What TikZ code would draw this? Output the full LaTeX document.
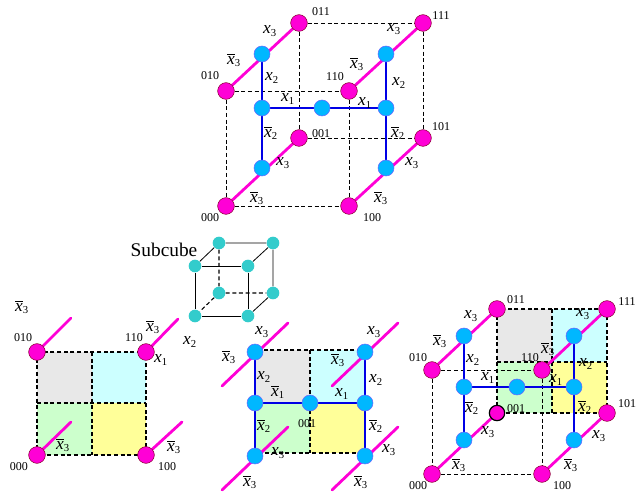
\documentclass[tikz,border=0pt]{standalone}
\usepackage{fontspec}
\setmainfont{Liberation Serif}
\usetikzlibrary{backgrounds}
\definecolor{railpink}{RGB}{255,0,214}
\definecolor{midcyan}{RGB}{0,183,255}
\definecolor{subteal}{RGB}{51,204,204}
\definecolor{tilegray}{RGB}{232,232,232}
\definecolor{tilecyan}{RGB}{204,255,255}
\definecolor{tilegreen}{RGB}{204,255,204}
\definecolor{tileyellow}{RGB}{255,255,153}
\newcommand{\xlit}[1]{$\mbox{\itshape x}_{\mbox{\fontsize{8}{8}\selectfont #1}}$}
\newcommand{\xbar}[1]{$\overline{\mbox{\itshape x}}_{\mbox{\fontsize{8}{8}\selectfont #1}}$}
\tikzset{
  corner/.style={circle,fill=railpink,draw=purple!70!black,line width=0.4pt,minimum size=12.5pt,inner sep=0pt},
  midpt/.style={circle,fill=midcyan,draw=blue!60,line width=0.4pt,minimum size=12pt,inner sep=0pt},
  subpt/.style={circle,fill=subteal,minimum size=9.5pt,inner sep=0pt},
  rail/.style={line width=2.1pt,color=railpink,line cap=round},
  axis/.style={line width=2.1pt,blue!90!black},
  hidden/.style={densely dashed,line width=0.6pt},
  tileline/.style={densely dashed,line width=1pt},
  code/.style={font=\fontsize{9}{9}\selectfont,inner sep=0pt},
  lit/.style={font=\fontsize{13}{13}\selectfont,inner sep=0pt}
}
\begin{document}
\begin{tikzpicture}[x=0.75pt,y=-0.75pt]
  \useasboundingbox (0,0) rectangle (640,495);

  % Main cube
  \foreach \t/\x/\y in {010/226/91,110/349/91,011/299/23,111/423/23,000/226/206,100/349/206,001/299/138,101/423/138}
    \node[corner] (a\t) at (\x,\y) {};
  \foreach \t/\x/\y in {tl/262/54,tr/386/54,cl/262/108,cc/322/108,cr/386/108,bl/262/168,br/386/168}
    \node[midpt] (a\t) at (\x,\y) {};
  \begin{scope}[on background layer]
    \draw[hidden] (a010) -- (a110) (a011) -- (a111) (a001) -- (a101) (a000) -- (a100);
    \draw[hidden] (a010) -- (a000) (a110) -- (a100) (a011) -- (a001) (a111) -- (a101);
    \draw[rail] (a010) -- (a011) (a110) -- (a111) (a000) -- (a001) (a100) -- (a101);
    \draw[axis] (atl) -- (abl) (atr) -- (abr) (acl) -- (acr);
  \end{scope}
  \foreach \t/\x/\y in {321/12/011,441/16/111,210/76/010,335/77/110,321/134/001,441/127/101,210/218/000,372/218/100}
    \node[code] at (\t,\x) {\y};
  \foreach \x/\y/\t in {270/31/3,394/29/3,272/78/2,399/83/2,288/99/1,365/103/1,283/163/3,412/163/3}
    \node[lit] at (\x,\y) {\xlit{\t}};
  \foreach \x/\y/\t in {234/60/3,357/64/3,271/133/2,398/133/2,257/198/3,381/198/3}
    \node[lit] at (\x,\y) {\xbar{\t}};

  % Subcube
  \node[font=\fontsize{14.5}{14.5}\selectfont,inner sep=0pt] (sublabel) at (164,250) {Subcube};
  \foreach \t/\x/\y in {fa/195/266,fb/248/266,fc/195/316,fd/248/316,ba/219/243,bb/273/243,bc/219/293,bd/273/293}
    \node[subpt] (s\t) at (\x,\y) {};
  \begin{scope}[on background layer]
    \draw[line width=0.6pt] (sfa) -- (sfb) -- (sfd) -- (sfc) -- (sfa);
    \draw[line width=0.6pt] (sba) -- (sbb) -- (sbd) (sfa) -- (sba) (sfb) -- (sbb) (sfd) -- (sbd);
    \draw[hidden,line width=0.8pt] (sba) -- (sbc) (sbc) -- (sbd) (sbc) -- (sfc);
  \end{scope}
  \node[lit] (subvar) at (190,342) {\xlit{2}};

  % Left square
  \foreach \t/\x/\y in {010/37/352,110/146/352,000/37/455,100/146/455}
    \node[corner] (l\t) at (\x,\y) {};
  \foreach \t/\x/\y in {a/71/318,b/178/319,c/71/422,d/182/422}
    \coordinate (lend\t) at (\x,\y);
  \begin{scope}[on background layer]
    \fill[tilegray] (37,352) rectangle (92,403);
    \fill[tilecyan] (92,352) rectangle (146,403);
    \fill[tilegreen] (37,403) rectangle (92,455);
    \fill[tileyellow] (92,403) rectangle (146,455);
    \draw[tileline] (37,352) rectangle (146,455) (92,352) -- (92,455) (37,403) -- (146,403);
    \draw[rail] (l010) -- (lenda) (l110) -- (lendb) (l000) -- (lendc) (l100) -- (lendd);
  \end{scope}
  \foreach \x/\y/\t in {23/338/010,134/338/110,19/467/000,167/467/100}
    \node[code] at (\x,\y) {\t};
  \foreach \x/\y in {22/307,153/327,63/445,174/447}
    \node[lit] at (\x,\y) {\xbar{3}};
  \node[lit] at (161,360) {\xlit{1}};

  % Middle square
  \foreach \t/\x/\y in {tl/255/352,tr/365/352,cl/255/403,cc/310/403,cr/365/403,bl/255/456,br/365/456}
    \node[midpt] (m\t) at (\x,\y) {};
  \foreach \t/\x/\y in {a/222/386,b/288/323,c/332/386,d/398/323,e/222/490,f/288,g/332/490}{}
  \foreach \t/\x/\y in {a/222/386,b/288/323,c/332/386,d/398/323,e/222/490,f/288/427,g/332/490,h/398/427}
    \coordinate (mend\t) at (\x,\y);
  \begin{scope}[on background layer]
    \fill[tilegray] (255,350) rectangle (310,403);
    \fill[tilecyan] (310,350) rectangle (365,403);
    \fill[tilegreen] (255,403) rectangle (310,453);
    \fill[tileyellow] (310,403) rectangle (365,453);
    \draw[tileline] (255,350) rectangle (365,453) (310,350) -- (310,453);
    \draw[rail] (menda) -- (mendb) (mendc) -- (mendd) (mende) -- (mendf) (mendg) -- (mendh);
    \draw[axis] (mtl) -- (mbl) (mtr) -- (mbr) (mcl) -- (mcr);
  \end{scope}
  \node[code] at (307,424) {001};
  \foreach \x/\y/\t in {262/332/3,374/332/3,264/377/2,376/380/2,342/394/1,278/453/3,389/450/3}
    \node[lit] at (\x,\y) {\xlit{\t}};
  \foreach \x/\y/\t in {229/357/3,338/360/3,278/392/1,264/426/2,376/426/2,250/482/3,361/482/3}
    \node[lit] at (\x,\y) {\xbar{\t}};

  % Right cube
  \foreach \t/\x/\y in {010/432/370,110/542/370,011/497/309,111/607/309,000/432/474,100/542/474,101/607/413}
    \node[corner] (r\t) at (\x,\y) {};
  \node[corner,draw=black,line width=0.9pt,minimum size=11.5pt] (r001) at (497,413) {};
  \foreach \t/\x/\y in {tl/464/336,tr/574/336,cl/464/387,cc/517/387,cr/574/387,bl/464/440,br/574/440}
    \node[midpt] (r\t) at (\x,\y) {};
  \begin{scope}[on background layer]
    \fill[tilegray] (497,309) rectangle (552,362);
    \fill[tilecyan] (552,309) rectangle (607,362);
    \fill[tilegreen] (497,362) rectangle (552,413);
    \fill[tileyellow] (552,362) rectangle (607,413);
    \draw[tileline] (497,309) rectangle (607,413) (552,309) -- (552,413) (497,362) -- (607,362);
    \draw[hidden] (r010) -- (r110) (r000) -- (r100) (r010) -- (r000) (r110) -- (r100);
    \draw[rail] (r010) -- (r011) (r110) -- (r111) (r000) -- (r001) (r100) -- (r101);
    \draw[axis] (rtl) -- (rbl) (rtr) -- (rbr) (rcl) -- (rcr);
  \end{scope}
  \foreach \x/\y/\t in {516/300/011,627/302/111,418/358/010,530/358/110,516/409/001,627/404/101,418/486/000,562/486/100}
    \node[code] at (\x,\y) {\t};
  \foreach \x/\y/\t in {471/316/3,583/314/3,473/360/2,586/364/2,488/378/1,556/380/1,488/432/3,599/436/3}
    \node[lit] at (\x,\y) {\xlit{\t}};
  \foreach \x/\y/\t in {440/341/3,548/349/3,472/408/2,585/407/2,459/465/3,571/465/3}
    \node[lit] at (\x,\y) {\xbar{\t}};
\end{tikzpicture}
\end{document}
